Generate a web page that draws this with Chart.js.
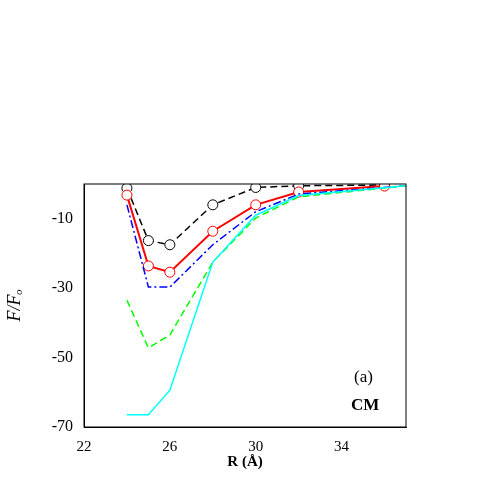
<!DOCTYPE html><html><head><script src="https://cdn.jsdelivr.net/npm/chart.js"></script>
<style>body{margin:0;background:#fff}#w{width:491px;height:491px}</style></head><body><div id="w"><canvas id="c"></canvas></div>
<script>
const xsCircle=[24,25,26,28,30,32,36];
const blackY=[-1.2,-16.3,-17.5,-6,-1,-0.5,-0.3];
const redY=[-3.2,-23.6,-25.4,-13.6,-6,-2.3,-0.6];
const xsLine=[24,25,26,28,30,32,37];
const blueY=[-6,-29.7,-29.7,-17.5,-8,-2.9,-0.5];
const greenY=[-33.5,-47.2,-43.5,-22.5,-9.8,-3.7,-0.5];
const cyanY=[-66.5,-66.5,-59.4,-22.5,-9,-3.3,-0.5];
const xTicks=[22,26,30,34];
const yTicks=[-10,-30,-50,-70];
const pts=(xs,ys)=>xs.map((x,i)=>({x,y:ys[i]}));
const serif='"Liberation Serif", serif';
const txt={id:'txt',afterDraw(ch){const c=ch.ctx;c.save();c.fillStyle='#000';c.font='17px '+serif;c.fillText('(a)',354,382);c.font='bold 17px '+serif;c.fillText('CM',351,410);c.restore();}};
new Chart(document.getElementById('c'),{type:'line',
data:{datasets:[
{data:pts(xsLine,cyanY),borderColor:'#00ffff',borderWidth:1.5,pointRadius:0},
{data:pts(xsLine,greenY),borderColor:'#00ff00',borderWidth:1.5,borderDash:[7,4],pointRadius:0},
{data:pts(xsLine,blueY),borderColor:'#0000ff',borderWidth:1.5,borderDash:[8,3,2,3],pointRadius:0},
{data:pts(xsCircle,redY),borderColor:'#ff0000',borderWidth:2,pointRadius:5,pointBackgroundColor:'#fff',pointBorderColor:'#ff0000',pointBorderWidth:1},
{data:pts(xsCircle,blackY),borderColor:'#000',borderWidth:1.5,borderDash:[7,4],pointRadius:5,pointBackgroundColor:'#fff',pointBorderColor:'#000',pointBorderWidth:1}
]},
options:{responsive:true,maintainAspectRatio:false,animation:false,events:[],
layout:{padding:{top:184,right:85,left:0,bottom:20}},
plugins:{legend:{display:false},tooltip:{enabled:false}},
scales:{
x:{type:'linear',min:22,max:37,afterFit(s){s.height=44},afterBuildTicks(s){s.ticks=xTicks.map(v=>({value:v}))},
grid:{display:false,drawTicks:true},border:{color:'#000',width:1},
ticks:{color:'#000',font:{family:serif,size:15}},
title:{display:true,text:'R (Å)',color:'#000',font:{family:serif,size:15,weight:'bold'},padding:0}},
y:{min:-70,max:0,afterFit(s){s.width=84},afterBuildTicks(s){s.ticks=yTicks.map(v=>({value:v}))},
grid:{display:false},border:{color:'#000',width:1},
ticks:{color:'#000',font:{family:serif,size:16}},
title:{display:true,text:'F/Fₒ',color:'#000',font:{family:serif,size:18,style:'italic'}}}
}},plugins:[txt,{id:'box',afterDraw(ch){const a=ch.chartArea,c=ch.ctx;c.save();c.strokeStyle='#000';c.lineWidth=1;c.strokeRect(a.left,a.top,a.right-a.left,a.bottom-a.top);c.restore();}}]});
</script></body></html>
